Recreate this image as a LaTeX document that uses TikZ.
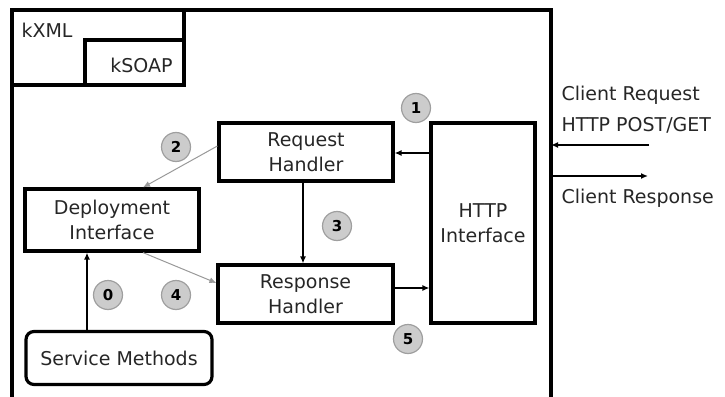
\documentclass[tikz,border=0pt]{standalone}
\usepackage{fontspec}
\setmainfont{DejaVu Sans}
\usetikzlibrary{arrows.meta}
\begin{document}
\begin{tikzpicture}[x=1pt,y=-1pt,
  lbl/.style={text=black!85, font=\fontsize{19}{25}\selectfont},
  box/.style={draw, line width=3.2pt, align=center, inner sep=0pt,
    text=black!85, font=\fontsize{19}{25}\selectfont},
  num/.style={circle, draw=gray!75, line width=1.2pt, fill=gray!40, inner sep=0pt,
    minimum size=29pt, font=\fontsize{15}{15}\selectfont\bfseries},
  flow/.style={line width=2pt, -{Latex[length=7pt,width=6pt]}},
  soft/.style={draw=gray!80, line width=1pt, -{Latex[length=7pt,width=6pt]}}]
\useasboundingbox (0,0) rectangle (725,396);

% container frame and the library boxes in its corner
\draw[line width=3.2pt] (12,400) -- (12,10) -- (551,10) -- (551,400);
\coordinate (frameR) at (551,10);
\draw[line width=3.2pt] (12,10) rectangle (184,85);
\draw[line width=3.2pt] (85,40) rectangle (184,85);
\node[lbl, anchor=west] (kxml) at (18,30) {kXML};
\node[lbl, anchor=east] (ksoap) at (176,65) {kSOAP};

% components
\node[box, minimum width=174pt, minimum height=58pt] (req) at (306,152) {Request\\Handler};
\node[box, minimum width=175pt, minimum height=58pt] (resp) at (305.5,294) {Response\\Handler};
\node[box, minimum width=104pt, minimum height=200pt] (http) at (483,223) {HTTP\\Interface};
\node[box, minimum width=174pt, minimum height=62pt] (dep) at (112,220) {Deployment\\Interface};
\node[box, rounded corners=8pt, minimum width=186pt, minimum height=53pt] (svc) at (119,358) {Service Methods};

% step numbers
\node[num] (c0) at (108,295) {0};
\node[num] (c1) at (416,108) {1};
\node[num] (c2) at (176,147) {2};
\node[num] (c3) at (337,226) {3};
\node[num] (c4) at (176,295) {4};
\node[num] (c5) at (408,339) {5};

% internal flow
\draw[flow] (http.west |- 0,153) -- (req.east |- 0,153);
\draw[soft] (req.west |- 0,146) -- (dep.north -| 143,0);
\draw[flow] (req.south -| 303,0) -- (resp.north -| 303,0);
\draw[soft] (dep.south -| 143,0) -- (resp.west |- 0,283);
\draw[flow] (svc.north -| 87,0) -- (dep.south -| 87,0);
\draw[flow] (resp.east |- 0,288) -- (http.west |- 0,288);

% client side
\coordinate (reqin) at (649,145);
\coordinate (respout) at (648,176);
\draw[flow] (reqin) -- (reqin -| frameR);
\draw[flow] (respout -| frameR) -- (respout);
\node[lbl, anchor=west] (creq) at (558,95) {Client Request};
\node[lbl, anchor=west] (cpost) at (558,125) {HTTP POST/GET};
\node[lbl, anchor=west] (cresp) at (558,198) {Client Response};
\end{tikzpicture}
\end{document}
